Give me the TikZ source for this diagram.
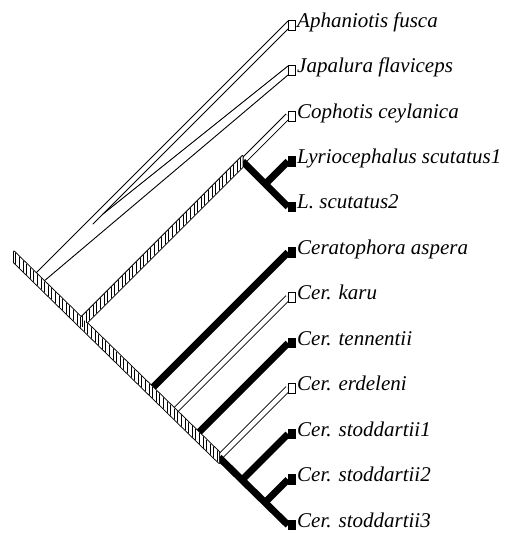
\documentclass[tikz,border=0pt]{standalone}
\usepackage{fontspec}
\setmainfont{Liberation Serif}
\usetikzlibrary{calc}
\begin{document}
\begin{tikzpicture}[x=1pt,y=-1pt,
  thinedge/.style={line width=0.9pt, line cap=round},
  blackband/.style={line width=7pt, line cap=butt},
  whiteouter/.style={line width=6.4pt, line cap=butt, black},
  whiteinner/.style={line width=4.6pt, line cap=butt, white},
  hatchout/.style={line width=1.8pt, line join=round},
  hatchline/.style={line width=0.8pt},
  tipw/.style={draw, fill=white, line width=0.8pt, minimum width=6.5pt, minimum height=10pt, inner sep=0pt, anchor=west},
  tipb/.style={fill=black, minimum width=8pt, minimum height=10.5pt, inner sep=0pt, anchor=west},
  lab/.style={anchor=base west, inner sep=0pt, font=\itshape\fontsize{21}{24}\selectfont}
]
\useasboundingbox (0,0) rectangle (519,533);

% internal nodes
\coordinate (root) at (14,257);
\coordinate (nC) at (81.2,322.8);
\coordinate (nCL) at (242.6,161.4);
\coordinate (nL) at (265.3,184.1);
\coordinate (nAsp) at (150.2,390.2);
\coordinate (nKaru) at (173.1,412.6);
\coordinate (nTenn) at (196.1,435.1);
\coordinate (nErd) at (219.1,457.5);
\coordinate (nSt1) at (242,480);
\coordinate (nSt2) at (265,502.5);

% branch ends at the tips
\coordinate (eAph) at (288,25);
\coordinate (eJap) at (288,70.5);
\coordinate (eCop) at (288,116);
\coordinate (eLyr) at (288,161.4);
\coordinate (eLsc) at (288,206.8);
\coordinate (eAsp) at (288,252.3);
\coordinate (eKar) at (288,297.7);
\coordinate (eTen) at (288,343.2);
\coordinate (eErd) at (288,388.6);
\coordinate (eSt1) at (288,434);
\coordinate (eSt2) at (288,479.5);
\coordinate (eSt3) at (288,525);

% outgroup (white) outline points
\coordinate (aU0) at (34,275);
\coordinate (aU1) at (288,21);
\coordinate (aL0) at (93,224);
\coordinate (aL1) at (288,29);
\coordinate (jU0) at (103,214);
\coordinate (jU1) at (288,66);
\coordinate (jL0) at (40,284.5);
\coordinate (jL1) at (288,75);

% outgroup bands
\draw[thinedge] (aU0) -- (aU1);
\draw[thinedge] (aL0) -- (aL1);
\draw[thinedge] (jU0) -- (jU1);
\draw[thinedge] (jL0) -- (jL1);

% white terminal bands
\draw[whiteouter] ($(nCL)+(-4,4)$) -- (eCop);
\draw[whiteouter] (nKaru) -- (eKar);
\draw[whiteouter] (nErd) -- (eErd);
\draw[whiteinner] ($(nCL)+(-4,4)$) -- (eCop);
\draw[whiteinner] (nKaru) -- (eKar);
\draw[whiteinner] (nErd) -- (eErd);

% black bands
\draw[blackband] (nAsp) -- (eAsp);
\draw[blackband] (nTenn) -- (eTen);
\draw[blackband] (nSt1) -- (eSt1);
\draw[blackband] (nSt2) -- (eSt2);
\draw[blackband] (nErd) -- (eSt3);
\draw[blackband] (nCL) -- (nL) -- (eLsc);
\draw[blackband] (nL) -- (eLyr);

% hatched bands: union outline, then white fill and hatching
\draw[hatchout] ([yshift=5.5pt]root) -- ([yshift=5.5pt]nErd) -- ([yshift=-5.5pt]nErd) -- ([yshift=-5.5pt]root) -- cycle;
\draw[hatchout] ([yshift=5.5pt]nC) -- ([yshift=5.5pt]nCL) -- ([yshift=-5.5pt]nCL) -- ([yshift=-5.5pt]nC) -- cycle;
\fill[white] ([yshift=5.5pt]root) -- ([yshift=5.5pt]nErd) -- ([yshift=-5.5pt]nErd) -- ([yshift=-5.5pt]root) -- cycle;
\fill[white] ([yshift=5.5pt]nC) -- ([yshift=5.5pt]nCL) -- ([yshift=-5.5pt]nCL) -- ([yshift=-5.5pt]nC) -- cycle;
\begin{scope}
  \clip ([yshift=5.5pt]root) -- ([yshift=5.5pt]nErd) -- ([yshift=-5.5pt]nErd) -- ([yshift=-5.5pt]root) -- cycle;
  \foreach \x in {15.8,19.4,...,219.5} \draw[hatchline] (\x,240) -- (\x,470);
\end{scope}
\begin{scope}
  \clip ([yshift=5.5pt]nC) -- ([yshift=5.5pt]nCL) -- ([yshift=-5.5pt]nCL) -- ([yshift=-5.5pt]nC) -- cycle;
  \foreach \x in {82.4,86,...,243} \draw[hatchline] (\x,150) -- (\x,335);
\end{scope}

% tip boxes
\node[tipw] (tAph) at (eAph) {};
\node[tipw] (tJap) at (eJap) {};
\node[tipw] (tCop) at (eCop) {};
\node[tipb] (tLyr) at (eLyr) {};
\node[tipb] (tLsc) at (eLsc) {};
\node[tipb] (tAsp) at (eAsp) {};
\node[tipw] (tKar) at (eKar) {};
\node[tipb] (tTen) at (eTen) {};
\node[tipw] (tErd) at (eErd) {};
\node[tipb] (tSt1) at (eSt1) {};
\node[tipb] (tSt2) at (eSt2) {};
\node[tipb] (tSt3) at (eSt3) {};

% labels
\node[lab] (lAph) at ($(eAph)+(9,2)$) {Aphaniotis fusca};
\node[lab] (lJap) at ($(eJap)+(9,2)$) {Japalura flaviceps};
\node[lab] (lCop) at ($(eCop)+(9,2)$) {Cophotis ceylanica};
\node[lab] (lLyr) at ($(eLyr)+(9,2)$) {Lyriocephalus scutatus1};
\node[lab] (lLsc) at ($(eLsc)+(9,2)$) {L. scutatus2};
\node[lab] (lAsp) at ($(eAsp)+(9,2)$) {Ceratophora aspera};
\node[lab] (lKar) at ($(eKar)+(9,2)$) {Cer. karu};
\node[lab] (lTen) at ($(eTen)+(9,2)$) {Cer. tennentii};
\node[lab] (lErd) at ($(eErd)+(9,2)$) {Cer. erdeleni};
\node[lab] (lSt1) at ($(eSt1)+(9,2)$) {Cer. stoddartii1};
\node[lab] (lSt2) at ($(eSt2)+(9,2)$) {Cer. stoddartii2};
\node[lab] (lSt3) at ($(eSt3)+(9,2)$) {Cer. stoddartii3};
\end{tikzpicture}
\end{document}
